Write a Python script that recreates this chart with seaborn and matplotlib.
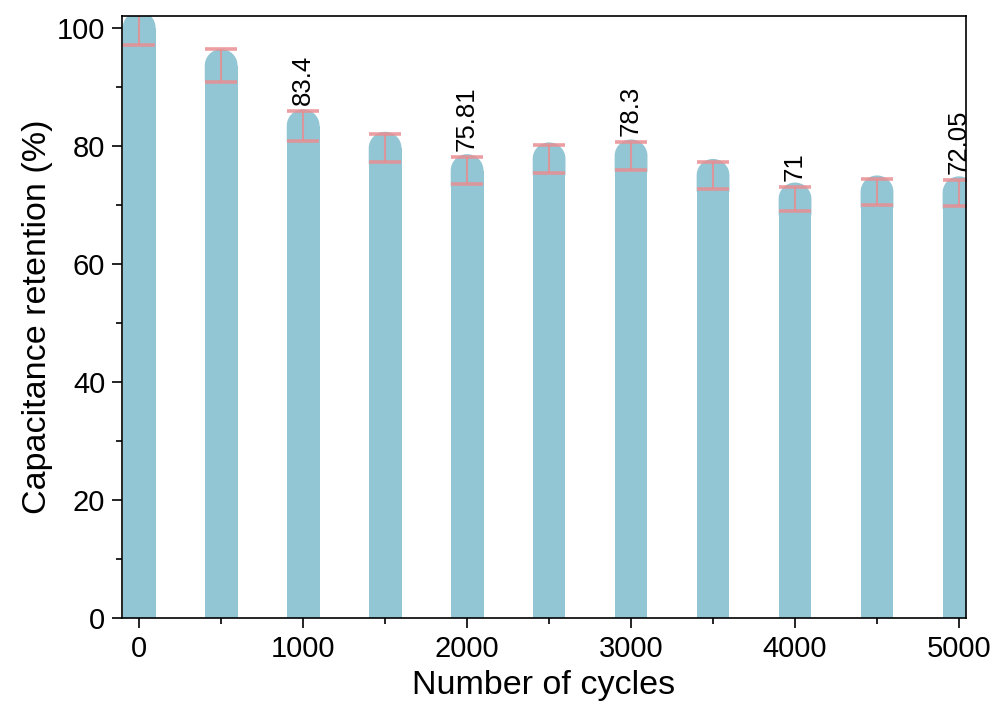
import pandas as pd
import matplotlib.pyplot as plt
import seaborn as sns
import numpy as np
from matplotlib.patches import Polygon
from matplotlib.ticker import MultipleLocator

cycles = [0, 500, 1000, 1500, 2000, 2500, 3000, 3500, 4000, 4500, 5000]
retention = [100, 93.6, 83.4, 79.6, 75.81, 77.8, 78.3, 75.0, 71, 72.2, 72.05]
err = [2.9, 2.8, 2.55, 2.4, 2.3, 2.35, 2.35, 2.25, 2.1, 2.2, 2.2]
labels = {1000: '83.4', 2000: '75.81', 3000: '78.3', 4000: '71', 5000: '72.05'}

df = pd.DataFrame({'cycles': cycles, 'retention': retention, 'err': err})

sns.set_style('ticks')
plt.rcParams['font.family'] = ['Liberation Sans', 'DejaVu Sans']
plt.rcParams['text.color'] = 'black'
plt.rcParams['axes.labelcolor'] = 'black'
plt.rcParams['xtick.color'] = 'black'
plt.rcParams['ytick.color'] = 'black'

bar_color = '#93C6D4'
err_color = '#E88E92'

fig = plt.figure(figsize=(9.9, 7.13), dpi=100)
ax = fig.add_axes([0.1232, 0.1332, 0.8526, 0.8444])

sns.barplot(data=df, x='cycles', y='retention', native_scale=True, width=0.4,
            color=bar_color, saturation=1, errorbar=None, linewidth=0,
            ax=ax, zorder=2)

ax.set_xlim(-105, 5043)
ax.set_ylim(0, 102)

# rounded tops: half-ellipse that looks like a semicircle on screen
fig.canvas.draw()
p0 = ax.transData.transform((0, 0))
p1 = ax.transData.transform((1, 1))
sx, sy = p1[0] - p0[0], p1[1] - p0[1]
t = np.linspace(0, np.pi, 60)
for bar in list(ax.patches):
    w = bar.get_width()
    rx = w / 2
    ry = rx * sx / sy
    cx = bar.get_x() + rx
    top = bar.get_height()
    arc = np.column_stack([cx + rx * np.cos(t), top + ry * np.sin(t)])
    # extend down into the bar so no seam shows
    base = np.array([[cx - rx, top - ry], [cx + rx, top - ry]])
    pts = np.vstack([base[1:], arc, base[:1]])
    ax.add_patch(Polygon(pts, closed=True, facecolor=bar_color,
                         edgecolor='none', zorder=2))

ax.errorbar(df['cycles'], df['retention'], yerr=df['err'], fmt='none',
            ecolor=err_color, elinewidth=1.5, capsize=11.5, capthick=2.6,
            alpha=0.85, zorder=3)

for c, r, e in zip(cycles, retention, err):
    if c in labels:
        ax.text(c, r + e + 1.0, labels[c], rotation=90, ha='center', va='bottom',
                fontsize=18.5, zorder=4)

ax.xaxis.set_major_locator(MultipleLocator(1000))
ax.xaxis.set_minor_locator(MultipleLocator(500))
ax.yaxis.set_major_locator(MultipleLocator(20))
ax.yaxis.set_minor_locator(MultipleLocator(10))
ax.tick_params(which='major', direction='out', length=7, width=1.2,
               labelsize=21, pad=5)
ax.tick_params(which='minor', direction='out', length=4, width=1.2)
ax.tick_params(axis='x', which='both', top=False)
ax.tick_params(axis='y', which='both', right=False)

for s in ax.spines.values():
    s.set_linewidth(1.2)
    s.set_color('black')
    s.set_visible(True)
    s.set_zorder(5)

ax.set_xlabel('Number of cycles', fontsize=24.5, labelpad=5)
ax.set_ylabel('Capacitance retention (%)', fontsize=24.5, labelpad=3)

fig.savefig('out.png', dpi=100)
